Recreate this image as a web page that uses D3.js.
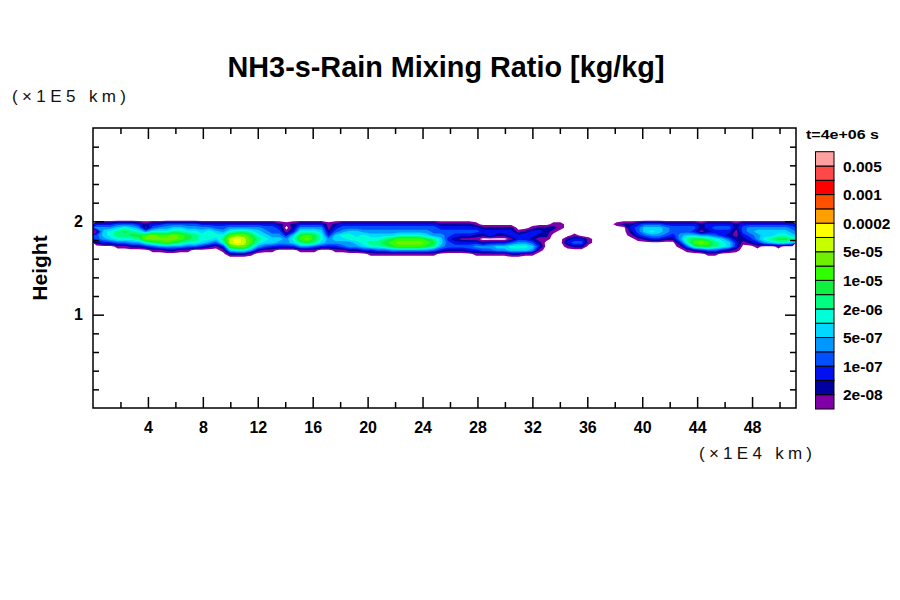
<!DOCTYPE html>
<html><head><meta charset="utf-8">
<script src="https://cdn.jsdelivr.net/npm/d3@7"></script>
<style>body{margin:0;background:#fff} svg{display:block}</style>
</head><body><svg id="c" width="900" height="600"></svg>
<script>
// ---- data ----
const levels = [1e-8, 2e-8, 5e-8, 1e-7, 2e-7, 5e-7, 1e-6, 2e-6, 5e-6, 1e-5, 2e-5, 5e-5, 1e-4, 2e-4, 5e-4, 1e-3, 2e-3, 5e-3, 1e-2];
const levelLabels = ["2e-08", "1e-07", "5e-07", "2e-06", "1e-05", "5e-05", "0.0002", "0.001", "0.005"];
const labelLevelIndex = [1, 3, 5, 7, 9, 11, 13, 15, 17];
const colors = ["#8000a8", "#0000a0", "#0010f0", "#0050ff", "#0098ff", "#00d8ff", "#00ffd8", "#00ff80", "#10f040", "#30ff00", "#70f000", "#c8ff00", "#ffff00", "#ffa000", "#ff5000", "#ff0000", "#ff4848", "#ffa0a0"];
const xMajorTicks = [4, 8, 12, 16, 20, 24, 28, 32, 36, 40, 44, 48];
const xMinorTicks = [2, 6, 10, 14, 18, 22, 26, 30, 34, 38, 42, 46, 50];
const yMajorTicks = [1, 2];
const yMinorTicks = [0.2, 0.4, 0.6, 0.8, 1.2, 1.4, 1.6, 1.8, 2.2, 2.4, 2.6, 2.8];
const xDomain = [0, 51.2];
const yDomain = [0, 3];
const fieldTop = 2.07, fieldBottom = 1.59;
// colour-level index (0 = below lowest level, 1..18 = colour class) per grid column, rows top -> bottom
const fieldColumns = [
"003514420000","003566530000","003577630000","004688741000","004798741000",
"004689752000","003579852000","00215ab73000","00347bb84100","00357ab95100",
"00457aba5200","00468bb95200","00468aa85100","004579974100","004578874000",
"003567763000","003577752000","003467641000","003457873100","00357acca620",
"00358bddb720","00358bccb720","003579aa8510","003567875200","003456764100",
"003445663100","002345653000","001013553000","002236763000","003579a85100",
"00357ab95100","003579984100","003567763000","001123553000","002346653100",
"003457654100","003467755200","003466765200","003457776300","003456787310",
"003456787410","003456898410","0034569a9510","003457aba510","003457aba510",
"003457aba510","003457aba510","0034569a9510","003445898410","002345665300",
"002344344200","002343234200","002343134200","002343134300","001342135310",
"000232025410","000233035410","000232036510","000232036510","000233147620",
"000013357620","000023357610","000133246510","000232123100","000222100000",
"001210000000","001100000000","000000231000","000001342000","000000342000",
"000000110000","000000000000","000000000000","000000000000","001000000000",
"002000000000","002321000000","003443100000","004664200000","004675300000",
"004665300000","003554200000","003443200000","003445531000","003446874100",
"0034369a8200","0022159b9300","0033258a9410","003434788410","003433677300",
"003432466200","002211233100","003443210000","003554320000","003565531000",
"003566750000","003566860000","003567971000","003567970000","003456860000"
];

// ---- layout ----
const svg = d3.select("#c");
const m = {l: 93, r: 796, t: 128, b: 408};
const x = d3.scaleLinear().domain(xDomain).range([m.l, m.r]);
const y = d3.scaleLinear().domain(yDomain).range([m.b, m.t]);
const font = "'Liberation Sans', Arial, Helvetica, sans-serif";

svg.append("defs").append("clipPath").attr("id", "clip")
  .append("rect").attr("x", m.l).attr("y", m.t).attr("width", m.r - m.l).attr("height", m.b - m.t);

// ---- field ----
const nx = fieldColumns.length, ny = fieldColumns[0].length;
const values = new Array(nx * ny);
for (let j = 0; j < ny; j++) for (let i = 0; i < nx; i++) values[i + j * nx] = parseInt(fieldColumns[i][j], 16);
const gx = d3.scaleLinear().domain([0, nx]).range([x(xDomain[0]), x(xDomain[1])]);
const gy = d3.scaleLinear().domain([0, ny]).range([y(fieldTop), y(fieldBottom)]);
const thresholds = d3.range(1, colors.length + 1).map(k => k - 0.5);
const contours = d3.contours().size([nx, ny]).thresholds(thresholds)(values);
const path = d3.geoPath(d3.geoTransform({point(px, py) { this.stream.point(gx(px), gy(py)); }}));
svg.append("g").attr("clip-path", "url(#clip)")
  .selectAll("path").data(contours).join("path")
  .attr("d", path).attr("fill", (d, i) => colors[i]).attr("stroke", "none");

// ---- axes ----
function styleAxis(g) {
  g.select(".domain").remove();
  g.selectAll(".tick line").attr("stroke", "#000").attr("stroke-width", 1.5);
  g.selectAll("text").attr("font-family", font).attr("font-weight", "bold").attr("font-size", 16).attr("fill", "#000");
}
svg.append("g").attr("transform", `translate(0,${m.b})`)
  .call(d3.axisBottom(x).tickValues(xMajorTicks).tickSize(-11).tickPadding(14).tickFormat(d3.format("d"))).call(styleAxis);
svg.append("g").attr("transform", `translate(0,${m.b})`)
  .call(d3.axisBottom(x).tickValues(xMinorTicks).tickSize(-6).tickFormat("")).call(styleAxis);
svg.append("g").attr("transform", `translate(0,${m.t})`)
  .call(d3.axisTop(x).tickValues(xMajorTicks).tickSize(-11).tickFormat("")).call(styleAxis);
svg.append("g").attr("transform", `translate(0,${m.t})`)
  .call(d3.axisTop(x).tickValues(xMinorTicks).tickSize(-6).tickFormat("")).call(styleAxis);
svg.append("g").attr("transform", `translate(${m.l},0)`)
  .call(d3.axisLeft(y).tickValues(yMajorTicks).tickSize(-11).tickPadding(10).tickFormat(d3.format("d"))).call(styleAxis);
svg.append("g").attr("transform", `translate(${m.l},0)`)
  .call(d3.axisLeft(y).tickValues(yMinorTicks).tickSize(-6).tickFormat("")).call(styleAxis);
svg.append("g").attr("transform", `translate(${m.r},0)`)
  .call(d3.axisRight(y).tickValues(yMajorTicks).tickSize(-11).tickFormat("")).call(styleAxis);
svg.append("g").attr("transform", `translate(${m.r},0)`)
  .call(d3.axisRight(y).tickValues(yMinorTicks).tickSize(-6).tickFormat("")).call(styleAxis);
svg.append("rect").attr("x", m.l).attr("y", m.t).attr("width", m.r - m.l).attr("height", m.b - m.t)
  .attr("fill", "none").attr("stroke", "#000").attr("stroke-width", 1.5);

// ---- texts ----
svg.append("text").attr("x", 446).attr("y", 77).attr("text-anchor", "middle")
  .attr("font-family", font).attr("font-weight", "bold").attr("font-size", 30)
  .attr("textLength", 437).attr("lengthAdjust", "spacingAndGlyphs")
  .text("NH3-s-Rain Mixing Ratio [kg/kg]");
svg.append("text").attr("x", 12).attr("y", 102)
  .attr("font-family", font).attr("font-size", 17).attr("fill", "#111")
  .attr("textLength", 114).attr("lengthAdjust", "spacing")
  .text("(×1E5  km)");
svg.append("text").attr("x", 699).attr("y", 459)
  .attr("font-family", font).attr("font-size", 17).attr("fill", "#111")
  .attr("textLength", 113).attr("lengthAdjust", "spacing")
  .text("(×1E4  km)");
svg.append("text").attr("transform", "translate(47,268) rotate(-90)").attr("text-anchor", "middle")
  .attr("font-family", font).attr("font-weight", "bold").attr("font-size", 21)
  .text("Height");

// ---- colour bar ----
const cb = {x: 815.5, w: 18.5, top: 151.7, bottom: 409};
const cy = d3.scaleLinear().domain([0, colors.length]).range([cb.bottom, cb.top]);
svg.append("g").selectAll("rect").data(colors).join("rect")
  .attr("x", cb.x).attr("width", cb.w)
  .attr("y", (d, i) => cy(i + 1)).attr("height", (d, i) => cy(i) - cy(i + 1))
  .attr("fill", d => d).attr("stroke", "#000").attr("stroke-width", 1);
svg.append("g").selectAll("text").data(levelLabels).join("text")
  .attr("x", 843).attr("y", (d, i) => cy(labelLevelIndex[i])).attr("dy", "0.36em")
  .attr("font-family", font).attr("font-weight", "bold").attr("font-size", 15.5)
  .text(d => d);
svg.append("text").attr("x", 806).attr("y", 139)
  .attr("font-family", font).attr("font-weight", "bold").attr("font-size", 13)
  .attr("textLength", 73).attr("lengthAdjust", "spacingAndGlyphs")
  .text("t=4e+06 s");
</script>
</body></html>
